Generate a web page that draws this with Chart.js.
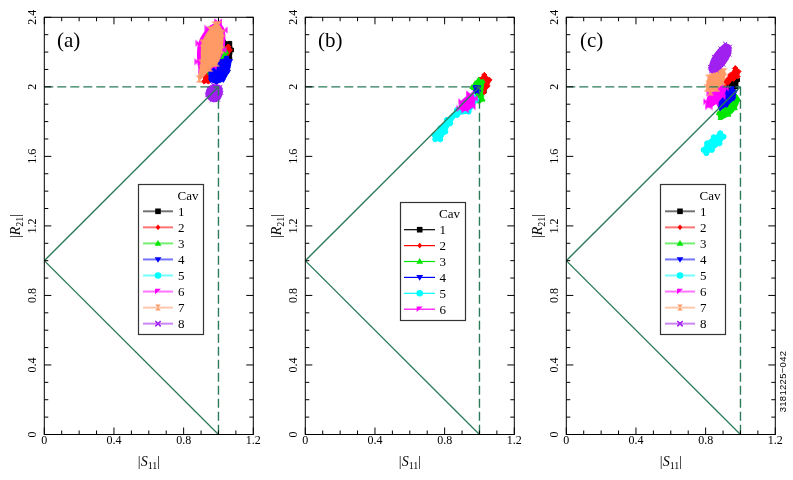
<!DOCTYPE html>
<html><head><meta charset="utf-8">
<script src="https://cdn.jsdelivr.net/npm/chart.js@4/dist/chart.umd.min.js"></script>
<style>
html,body{margin:0;padding:0;background:#fff;}
#wrap{position:relative;width:793px;height:480px;overflow:hidden;background:#fff;}
.pc{position:absolute;top:0;width:262px;height:480px;}
#ov{position:absolute;left:0;top:0;pointer-events:none;}
</style></head><body>
<div id="wrap">
<div class="pc" style="left:0px"><canvas id="ca" width="262" height="480"></canvas></div>
<div class="pc" style="left:261px"><canvas id="cb" width="262" height="480"></canvas></div>
<div class="pc" style="left:522px"><canvas id="cc" width="262" height="480"></canvas></div>
<svg id="ov" width="793" height="480" xmlns="http://www.w3.org/2000/svg"></svg>
</div>
<script>
// ---------------- DATA ----------------
const xTickVals = [0, 0.4, 0.8, 1.2];
const xTickLabels = ['0', '0.4', '0.8', '1.2'];
const yTickVals = [0, 0.4, 0.8, 1.2, 1.6, 2.0, 2.4];
const yTickLabels = ['0', '0.4', '0.8', '1.2', '1.6', '2', '2.4'];
const panelLabels = ['(a)', '(b)', '(c)'];
const legendTitle = 'Cav';
const cavNames = ['1', '2', '3', '4', '5', '6', '7', '8'];
const figureId = '3181225\u2212042';

// reference lines (|S11|, |R21|)
const solidUpper = [[0, 1], [1, 2]];
const solidLower = [[0, 1], [1, 0]];
const dashedHoriz = [[0, 2], [1, 2]];
const dashedVert = [[1, 2], [1, 0]];

// cluster outlines per cavity, panel (a)
const a_cav1 = [[1.028,2.260],[1.066,2.251],[1.076,2.212],[1.066,2.164],[1.018,2.116],[0.989,2.088],[0.942,2.088],[0.951,2.136],[0.989,2.212]];
const a_cav2 = [[1.056,2.232],[1.066,2.212],[1.047,2.164],[0.989,2.088],[0.942,2.030],[0.917,2.030],[0.923,2.059],[0.980,2.136],[1.028,2.212]];
const a_cav3 = [[1.028,2.225],[1.045,2.200],[1.040,2.164],[0.989,2.107],[0.951,2.078],[0.932,2.097],[0.970,2.155],[0.999,2.205]];
const a_cav4 = [[1.047,2.168],[1.068,2.150],[1.056,2.088],[1.028,2.040],[0.989,2.024],[0.955,2.040],[0.951,2.088],[0.980,2.120],[1.018,2.150]];
const a_cav5 = [[0.945,2.330],[0.975,2.345],[0.985,2.300],[0.955,2.285]];
const a_cav6 = [[0.999,2.372],[1.030,2.327],[1.026,2.212],[0.970,2.116],[0.903,2.088],[0.884,2.145],[0.890,2.251],[0.942,2.337]];
const a_cav7 = [[0.999,2.356],[1.022,2.308],[1.016,2.212],[0.989,2.136],[0.951,2.107],[0.890,2.044],[0.903,2.136],[0.909,2.251],[0.951,2.327],[0.980,2.356]];
const a_cav8 = [[0.970,2.011],[1.012,2.001],[1.018,1.963],[0.999,1.925],[0.961,1.921],[0.932,1.953],[0.942,1.992]];

// panel (b)
const b_cav1 = [[1.014,2.011],[1.033,2.001],[1.028,1.973],[1.014,1.982]];
const b_cav2 = [[1.028,2.068],[1.058,2.040],[1.047,2.005],[1.024,1.967],[1.005,1.992],[1.001,2.040]];
const b_cav3 = [[0.995,2.040],[1.020,2.030],[1.014,1.953],[1.020,1.925],[0.995,1.915],[0.985,1.953],[0.966,1.992],[0.957,1.998],[0.976,2.021]];
const b_cav4 = [[0.976,1.998],[0.995,1.998],[0.995,1.973],[0.976,1.973]];
const b_cav5 = [[0.966,1.940],[0.982,1.925],[0.938,1.857],[0.871,1.838],[0.832,1.790],[0.804,1.742],[0.775,1.698],[0.746,1.698],[0.741,1.723],[0.775,1.762],[0.813,1.810],[0.871,1.867],[0.918,1.905]];
const b_cav6 = [[0.947,1.957],[0.970,1.934],[0.957,1.886],[0.918,1.867],[0.890,1.876],[0.899,1.915]];

// panel (c)
const c_cav1 = [[0.970,2.059],[0.984,2.040],[0.976,2.001],[0.941,1.963],[0.913,1.947],[0.907,1.973],[0.932,2.011]];
const c_cav2 = [[0.970,2.107],[0.989,2.088],[0.984,2.059],[0.960,2.045],[0.930,2.025],[0.907,2.010],[0.907,2.030],[0.941,2.068]];
const c_cav3 = [[0.976,1.944],[0.989,1.925],[0.970,1.876],[0.932,1.838],[0.884,1.819],[0.874,1.848],[0.903,1.886],[0.941,1.925]];
const c_cav4 = [[0.951,1.992],[0.970,1.973],[0.961,1.934],[0.922,1.896],[0.884,1.876],[0.874,1.902],[0.894,1.944],[0.922,1.973]];
const c_cav5 = [[0.884,1.732],[0.903,1.713],[0.880,1.675],[0.836,1.637],[0.804,1.618],[0.788,1.637],[0.808,1.675],[0.846,1.710]];
const c_cav6 = [[0.884,2.011],[0.913,1.992],[0.894,1.944],[0.855,1.905],[0.817,1.886],[0.808,1.915],[0.827,1.963],[0.855,1.998]];
const c_cav7 = [[0.874,2.107],[0.907,2.088],[0.899,2.030],[0.865,1.992],[0.827,1.973],[0.808,1.992],[0.817,2.049],[0.846,2.088]];
const c_cav8 = [[0.913,2.247],[0.941,2.232],[0.938,2.184],[0.903,2.126],[0.865,2.093],[0.830,2.088],[0.823,2.116],[0.846,2.174],[0.884,2.222]];

const panelA = [a_cav1, a_cav2, a_cav3, a_cav4, a_cav5, a_cav6, a_cav7, a_cav8];
const panelB = [b_cav1, b_cav2, b_cav3, b_cav4, b_cav5, b_cav6];
const panelC = [c_cav1, c_cav2, c_cav3, c_cav4, c_cav5, c_cav6, c_cav7, c_cav8];

// ---------------- STYLES ----------------
const cavColors = ['#000000', '#ff0000', '#00e600', '#0000ff', '#00ffff', '#ff00ff', '#ff9966', '#a020f0'];
const cavMarkers = ['square', 'diamond', 'tri', 'trid', 'circle', 'bowtie', 'hour', 'x'];
const refColor = '#2b7a59';
const SERIF = "'Liberation Serif','Times New Roman',serif";

function markerCanvas(type, color) {
  const c = document.createElement('canvas');
  c.width = 8; c.height = 8;
  const g = c.getContext('2d');
  g.fillStyle = color; g.strokeStyle = color; g.lineWidth = 1.3;
  g.beginPath();
  if (type === 'bowtie') {
    g.moveTo(0.5, 0.5); g.lineTo(4, 4); g.lineTo(0.5, 7.5); g.closePath();
    g.moveTo(7.5, 0.5); g.lineTo(4, 4); g.lineTo(7.5, 7.5); g.closePath(); g.fill();
  } else if (type === 'hour') {
    g.moveTo(0.5, 0.5); g.lineTo(7.5, 0.5); g.lineTo(4, 4); g.closePath();
    g.moveTo(0.5, 7.5); g.lineTo(7.5, 7.5); g.lineTo(4, 4); g.closePath(); g.fill();
  }
  return c;
}
function pointStyleFor(i) {
  const m = cavMarkers[i];
  if (m === 'square') return {s: 'rect', r: 0};
  if (m === 'diamond') return {s: 'rectRot', r: 0};
  if (m === 'tri') return {s: 'triangle', r: 0};
  if (m === 'trid') return {s: 'triangle', r: 180};
  if (m === 'circle') return {s: 'circle', r: 0};
  if (m === 'x') return {s: 'crossRot', r: 0};
  return {s: markerCanvas(m, cavColors[i]), r: 0};
}
const toXY = arr => arr.map(p => ({x: p[0], y: p[1]}));
const closed = arr => toXY(arr.concat([arr[0]]));

const frameTicks = {
  id: 'frameTicks',
  afterDraw(chart) {
    const {ctx, chartArea: ca, scales: {x, y}} = chart;
    ctx.save();
    ctx.strokeStyle = '#000'; ctx.lineWidth = 1;
    ctx.strokeRect(ca.left, ca.top, ca.right - ca.left, ca.bottom - ca.top);
    ctx.beginPath();
    for (let k = 0; k <= 12; k++) {
      const px = x.getPixelForValue(k / 10);
      const len = (k % 4 === 0) ? 7 : 4;
      ctx.moveTo(px, ca.bottom); ctx.lineTo(px, ca.bottom - len);
      ctx.moveTo(px, ca.top); ctx.lineTo(px, ca.top + len);
    }
    for (let k = 0; k <= 24; k++) {
      const py = y.getPixelForValue(k / 10);
      const len = (k % 4 === 0) ? 7 : 4;
      ctx.moveTo(ca.left, py); ctx.lineTo(ca.left + len, py);
      ctx.moveTo(ca.right, py); ctx.lineTo(ca.right - len, py);
    }
    ctx.stroke();
    ctx.restore();
  }
};

function makeChart(id, clusters) {
  const datasets = [];
  clusters.forEach((pts, i) => {
    const ps = pointStyleFor(i);
    datasets.push({
      label: 'Cav ' + cavNames[i],
      data: closed(pts),
      borderColor: cavColors[i],
      backgroundColor: cavColors[i],
      borderWidth: 2,
      fill: 'shape',
      tension: 0.35,
      pointStyle: ps.s,
      pointRotation: ps.r,
      pointRadius: 2.5,
      pointBackgroundColor: cavColors[i],
      pointBorderColor: cavColors[i],
      pointBorderWidth: 1,
      order: 20 - i
    });
  });
  const ref = (arr, dash) => ({
    data: toXY(arr), borderColor: refColor, borderWidth: dash ? 1.4 : 1.3,
    borderDash: dash ? [9, 4] : [], pointRadius: 0, fill: false, tension: 0, order: 0
  });
  datasets.push(ref(solidUpper, false), ref(solidLower, false), ref(dashedHoriz, true), ref(dashedVert, true));

  return new Chart(document.getElementById(id), {
    type: 'line',
    data: {datasets},
    options: {
      responsive: false,
      animation: false,
      events: [],
      layout: {padding: {top: 17.3, right: 8.7, bottom: 0, left: 0}},
      plugins: {legend: {display: false}, tooltip: {enabled: false}, title: {display: false}},
      scales: {
        x: {
          type: 'linear', min: 0, max: 1.2,
          afterBuildTicks: s => { s.ticks = xTickVals.map(v => ({value: v})); },
          afterFit: s => { s.height = 45.5; },
          grid: {display: false, drawTicks: false},
          border: {display: false},
          ticks: {
            autoSkip: false, maxRotation: 0, minRotation: 0, padding: 0,
            color: '#000', font: {family: SERIF, size: 12, lineHeight: 1},
            callback: (v, i) => xTickLabels[i]
          }
        },
        y: {
          type: 'linear', min: 0, max: 2.4,
          afterBuildTicks: s => { s.ticks = yTickVals.map(v => ({value: v})); },
          afterFit: s => { s.width = 44.3; },
          grid: {display: false, drawTicks: false},
          border: {display: false},
          ticks: {
            autoSkip: false, minRotation: 90, maxRotation: 90, crossAlign: 'center', padding: 4,
            color: '#000', font: {family: SERIF, size: 12, lineHeight: 1},
            callback: (v, i) => yTickLabels[i]
          }
        }
      }
    },
    plugins: [frameTicks]
  });
}

makeChart('ca', panelA);
makeChart('cb', panelB);
makeChart('cc', panelC);

// ---------------- OVERLAY (titles, legends, labels) ----------------
const NS = 'http://www.w3.org/2000/svg';
const ov = document.getElementById('ov');
function el(tag, attrs, parent) {
  const e = document.createElementNS(NS, tag);
  for (const k in attrs) e.setAttribute(k, attrs[k]);
  (parent || ov).appendChild(e);
  return e;
}
function txt(parent, str, attrs) { const t = el('tspan', attrs || {}, parent); t.textContent = str; return t; }

const offsets = [0, 261, 522];
offsets.forEach((dx, p) => {
  const xt = el('text', {x: 149 + dx, y: 466, 'text-anchor': 'middle', 'font-family': SERIF, 'font-size': 14, fill: '#000'});
  txt(xt, '|'); txt(xt, 'S', {'font-style': 'italic'}); txt(xt, '11', {'font-size': 10, dy: 3}); txt(xt, '|', {dy: -3});
  const yt = el('text', {transform: `translate(${19.5 + dx},226) rotate(-90)`, 'text-anchor': 'middle', 'font-family': SERIF, 'font-size': 14, fill: '#000'});
  txt(yt, '|'); txt(yt, 'R', {'font-style': 'italic'}); txt(yt, '21', {'font-size': 10, dy: 3}); txt(yt, '|', {dy: -3});
  const pl = el('text', {x: 57 + dx + (p === 2 ? 1 : 0), y: 47, 'font-family': SERIF, 'font-size': 21, fill: '#000'});
  pl.textContent = panelLabels[p];
});

function drawMarker(g, type, cx, cy, color) {
  if (type === 'square') el('rect', {x: cx - 2.8, y: cy - 2.8, width: 5.6, height: 5.6, fill: color}, g);
  else if (type === 'diamond') el('polygon', {points: `${cx},${cy-2.8} ${cx+2.3},${cy} ${cx},${cy+2.8} ${cx-2.3},${cy}`, fill: color}, g);
  else if (type === 'tri') el('polygon', {points: `${cx},${cy-3.4} ${cx+3.4},${cy+2.3} ${cx-3.4},${cy+2.3}`, fill: color}, g);
  else if (type === 'trid') el('polygon', {points: `${cx-3.4},${cy-2.3} ${cx+3.4},${cy-2.3} ${cx},${cy+3.4}`, fill: color}, g);
  else if (type === 'circle') el('circle', {cx, cy, r: 3.3, fill: color}, g);
  else if (type === 'bowtie') el('polygon', {points: `${cx-3},${cy-2.8} ${cx},${cy} ${cx-3},${cy+2.8} ${cx-3},${cy-2.8} ${cx+3},${cy-2.8} ${cx},${cy} ${cx+3},${cy+2.8}`, fill: color}, g);
  else if (type === 'hour') el('polygon', {points: `${cx-2.8},${cy-3} ${cx+2.8},${cy-3} ${cx},${cy} ${cx-2.8},${cy+3} ${cx+2.8},${cy+3} ${cx},${cy}`, fill: color}, g);
  else if (type === 'x') el('path', {d: `M${cx-2.7},${cy-2.7}L${cx+2.7},${cy+2.7}M${cx+2.7},${cy-2.7}L${cx-2.7},${cy+2.7}`, stroke: color, 'stroke-width': 1.5}, g);
}

const legends = [
  {n: 8, box: [138.5, 184.5, 65, 150], l1: 143, l2: 173, mx: 158, nx: 177.5, cavY: 200, r0: 211.3, dy: 16.05, lw: 2, op: 0.55},
  {n: 6, box: [400.5, 202.5, 65, 118], l1: 404, l2: 435, mx: 419.7, nx: 439, cavY: 217.5, r0: 229.7, dy: 15.9, lw: 1.2, op: 1},
  {n: 8, box: [660.5, 184.5, 65, 150], l1: 665, l2: 695, mx: 680, nx: 699.5, cavY: 200, r0: 211.3, dy: 16.05, lw: 2, op: 0.55}
];
legends.forEach(L => {
  const g = el('g', {});
  el('rect', {x: L.box[0], y: L.box[1], width: L.box[2], height: L.box[3], fill: '#fff', stroke: '#333', 'stroke-width': 1.2}, g);
  const ct = el('text', {x: L.nx, y: L.cavY, 'font-family': SERIF, 'font-size': 13, fill: '#000'}, g);
  ct.textContent = legendTitle;
  for (let i = 0; i < L.n; i++) {
    const cy = L.r0 + i * L.dy;
    el('line', {x1: L.l1, y1: cy, x2: L.l2, y2: cy, stroke: cavColors[i], 'stroke-width': L.lw, 'stroke-opacity': L.op}, g);
    drawMarker(g, cavMarkers[i], L.mx, cy, cavColors[i]);
    const t = el('text', {x: L.nx + 0.5, y: cy + 4.6, 'font-family': SERIF, 'font-size': 13, fill: '#000'}, g);
    t.textContent = cavNames[i];
  }
});

const fid = el('text', {transform: 'translate(786,381.5) rotate(-90)', 'text-anchor': 'middle', 'font-family': "'Liberation Sans',Arial,sans-serif", 'font-size': 9.5, fill: '#000', 'letter-spacing': 0.3});
fid.textContent = figureId;
</script>
</body></html>
